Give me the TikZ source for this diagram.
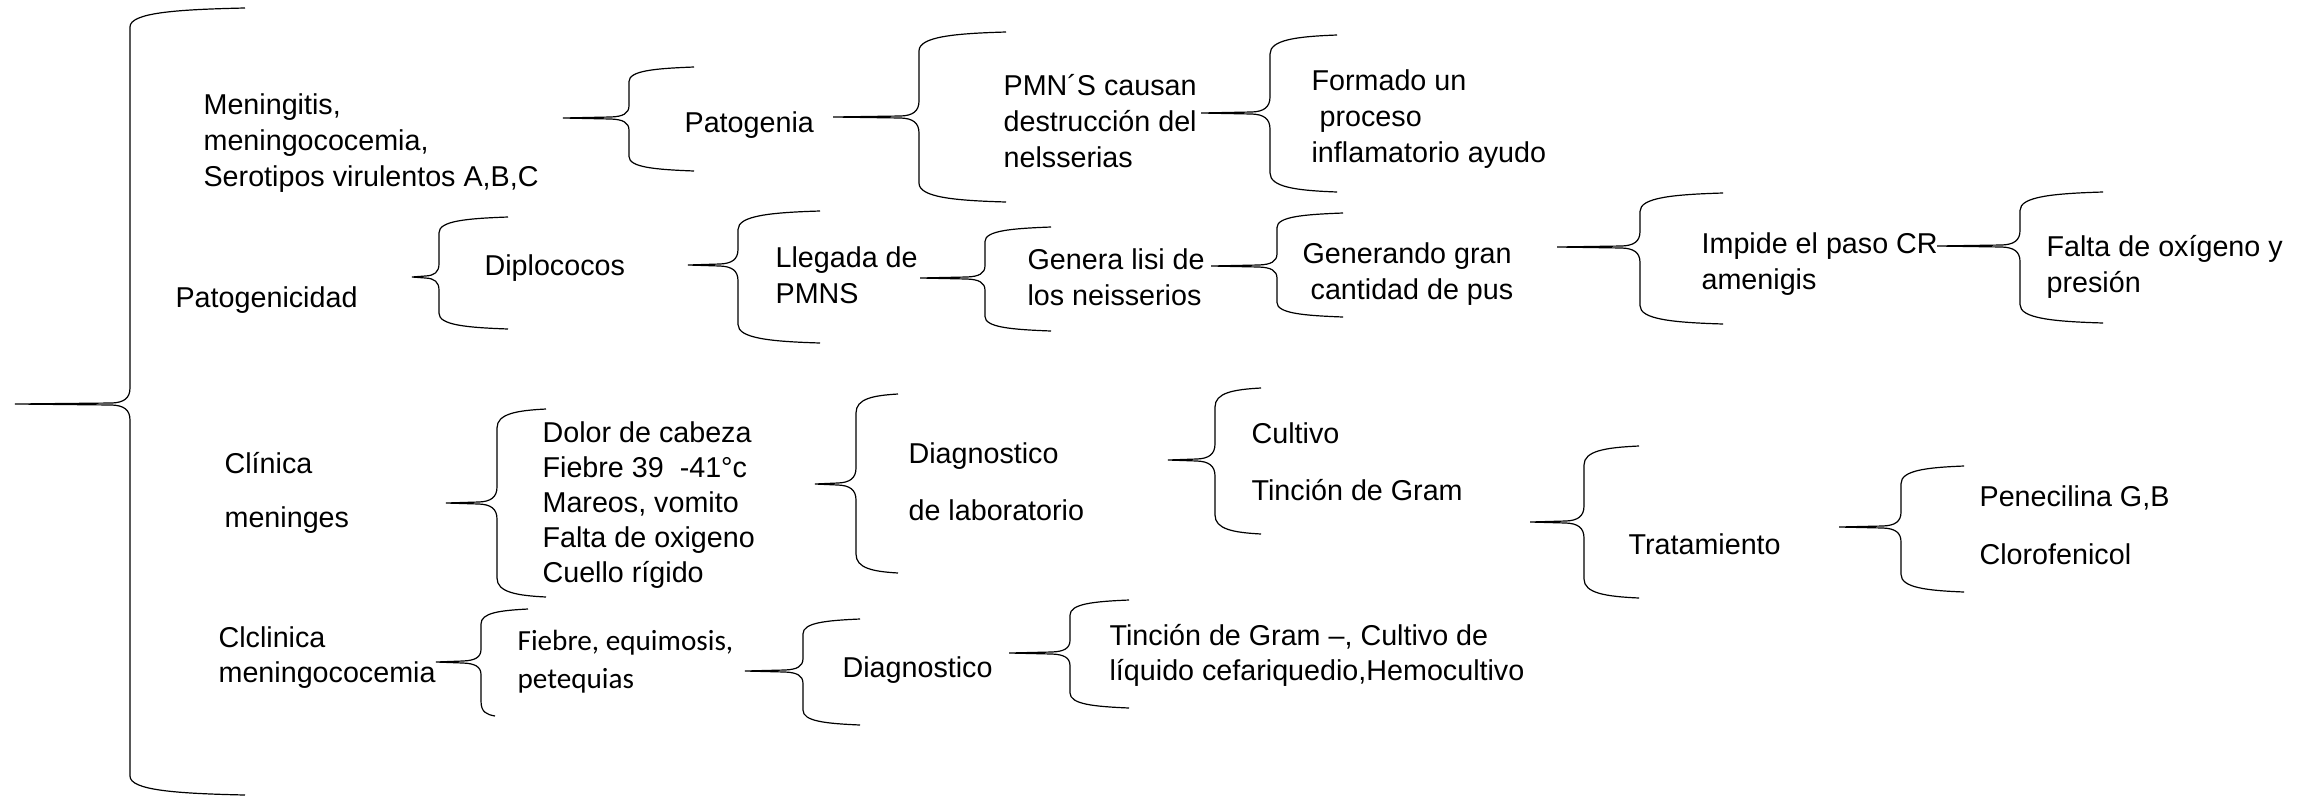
\documentclass[tikz,border=0pt]{standalone}
\usepackage{fontspec}
\setmainfont{Liberation Sans}
\newfontfamily\calibri{Carlito}
\usepackage{tikz}

% llave: nombre, punta x, punta y, eje x, extremo sup. x, arriba y, abajo y, extremo inf. x
\newcommand{\llave}[8]{%
	\pgfmathsetmacro\llr{min(19,0.14*(#7-#6))}
	\pgfmathsetmacro\llm{0.85*\llr}
	\pgfmathsetmacro\llk{min(18,0.5*(#4-#2))}
	\coordinate (#1) at (#2,#3);
	\draw (#5,#6) .. controls ({#4+0.4*(#5-#4)},{#6+1.5}) and (#4,{#6+0.25*\llr}) .. (#4,{#6+\llr})
		-- (#4,{#3-\llm}) .. controls (#4,{#3-0.35*\llm}) and ({#4-0.35*\llk},{#3-1.5}) .. ({#4-\llk},{#3-1}) -- (#1)
		-- ({#4-\llk},{#3+1}) .. controls ({#4-0.35*\llk},{#3+1.5}) and (#4,{#3+0.35*\llm}) .. (#4,{#3+\llm})
		-- (#4,{#7-\llr}) .. controls (#4,{#7-0.25*\llr}) and ({#4+0.4*(#8-#4)},{#7-1.5}) .. (#8,#7);
}

\begin{document}
\begin{tikzpicture}[x=0.5pt,y=-0.5pt,line width=0.6pt,
	txt/.style={anchor=base west,align=left,inner sep=0pt,font=\fontsize{14.35pt}{18pt}\selectfont},
	txtn/.style={txt,font=\fontsize{14.35pt}{17.5pt}\selectfont},
	txtc/.style={anchor=base west,align=left,inner sep=0pt,font=\calibri\fontsize{14.6pt}{19pt}\selectfont}]
	\useasboundingbox (0,0) rectangle (2317,804);

	\llave{gran}{15}{404}{130}{245}{8}{795}{245}
	\llave{bpatog}{563}{118}{629}{694}{67}{171}{694}
	\llave{bpmn}{833}{117}{919}{1006}{32}{202}{1006}
	\llave{bform}{1201}{113}{1270}{1337}{35}{192}{1337}
	\llave{bdiplo}{412}{277}{439}{508}{217}{329}{508}
	\llave{blleg}{688}{265}{738}{820}{211}{343}{820}
	\llave{bgen}{920}{278}{985}{1051}{227}{331}{1051}
	\llave{bgenr}{1211}{266}{1277}{1343}{213}{317}{1343}
	\llave{bimp}{1557}{247}{1640}{1723}{193}{324}{1723}
	\llave{bfalta}{1937}{246}{2020}{2103}{192}{323}{2103}
	\llave{bdolor}{446}{503}{497}{546}{409}{597}{546}
	\llave{bdiag}{815}{484}{856}{898}{394}{573}{898}
	\llave{bcult}{1168}{460}{1215}{1261}{388}{534}{1261}
	\llave{btrat}{1530}{522}{1584}{1639}{446}{598}{1639}
	\llave{bpen}{1839}{527}{1901}{1964}{466}{592}{1964}
	\llave{bfieb}{436}{662}{481}{528}{609}{716}{495}
	\llave{bdiagb}{745}{671}{803}{860}{619}{725}{860}
	\llave{btinc}{1009}{653}{1070}{1129}{600}{708}{1129}

	% base = renglon de abajo
	\node[txt] (menin) at (203,186) {Meningitis,\\meningococemia,\\Serotipos virulentos A,B,C};
	\node[txt] (patog) at (684,132) {Patogenia};
	\node[txt] (pmn) at (1003,167) {PMN´S causan\\destrucción del\\nelsserias};
	\node[txt] (form) at (1311,162) {Formado un\\\hspace{0.28em}proceso\\inflamatorio ayudo};
	\node[txt] (patgen) at (175,307) {Patogenicidad};
	\node[txt] (diplo) at (484,275) {Diplococos};
	\node[txt] (lleg) at (775,303) {Llegada de\\PMNS};
	\node[txt] (gen) at (1027,305) {Genera lisi de\\los neisserios};
	\node[txt] (genr) at (1302,299) {Generando gran\\\hspace{0.28em}cantidad de pus};
	\node[txt] (imp) at (1701,289) {Impide el paso CR\\amenigis};
	\node[txt] (falta) at (2046,292) {Falta de oxígeno y\\presión};
	\node[txt] (clin) at (224,527) {Clínica\\[9pt]meninges};
	\node[txtn] (dolor) at (542,582) {Dolor de cabeza\\Fiebre 39\ \ -41°c\\Mareos, vomito\\Falta de oxigeno\\Cuello rígido};
	\node[txt] (diag) at (908,520) {Diagnostico\\[10.5pt]de laboratorio};
	\node[txt] (cult) at (1251,500) {Cultivo\\[10.5pt]Tinción de Gram};
	\node[txt] (trat) at (1628,554) {Tratamiento};
	\node[txt] (pen) at (1979,564) {Penecilina G,B\\[11pt]Clorofenicol};
	\node[txtn] (clcl) at (218,682) {Clclinica\\meningococemia};
	\node[txtc] (fieb) at (517,688) {Fiebre, equimosis,\\petequias};
	\node[txt] (diagb) at (842,677) {Diagnostico};
	\node[txtn] (tinc) at (1109,680) {Tinción de Gram –, Cultivo de\\líquido cefariquedio,Hemocultivo};
\end{tikzpicture}
\end{document}
